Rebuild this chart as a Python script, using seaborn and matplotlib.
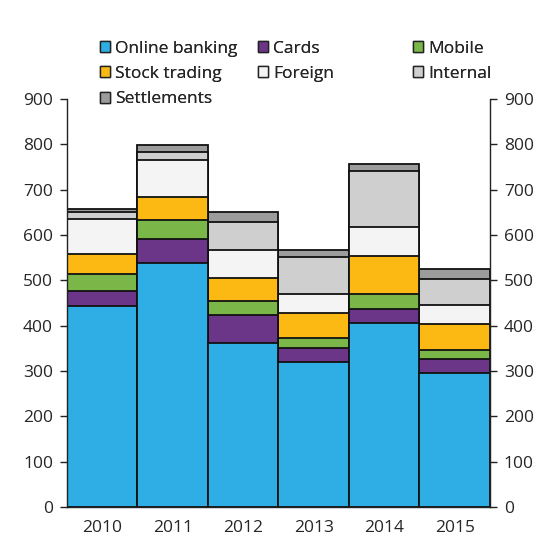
import matplotlib
matplotlib.use("Agg")
import matplotlib.pyplot as plt
import seaborn as sns
import numpy as np
import pandas as pd
from matplotlib.patches import Patch

years = ["2010", "2011", "2012", "2013", "2014", "2015"]
online_banking = [444, 538, 362, 320, 405, 295]
cards = [33, 54, 62, 30, 32, 31]
mobile = [37, 41, 31, 24, 33, 21]
stock_trading = [45, 50, 50, 54, 83, 56]
foreign = [77, 82, 61, 43, 65, 42]
internal = [14, 19, 62, 81, 124, 59]
settlements = [7, 14, 22, 14, 14, 21]

series_names = ["Online banking", "Cards", "Mobile", "Stock trading",
                "Foreign", "Internal", "Settlements"]
series_vals = [online_banking, cards, mobile, stock_trading, foreign,
               internal, settlements]
colors = ["#2EAEE5", "#6C3688", "#7AB648", "#FDB913", "#F4F4F4",
          "#CFCFCF", "#9C9C9C"]

sns.set_style("white")
plt.rcParams['font.family'] = ['Open Sans', 'DejaVu Sans']

fig = plt.figure(figsize=(5.6, 5.6), dpi=100)
ax = fig.add_axes([0.1196, 0.0946, 0.875 - 0.1196, 0.823 - 0.0946])

cum = np.cumsum(np.array(series_vals), axis=0)
for i in range(len(series_names) - 1, -1, -1):
    df = pd.DataFrame({"year": years, "value": cum[i]})
    sns.barplot(data=df, x="year", y="value", color=colors[i], width=1,
                saturation=1, edgecolor="#111111", linewidth=1.3, ax=ax,
                errorbar=None)

ax.set_xlim(-0.5, 5.5)
ax.set_ylim(0, 900)
ax.set_yticks(range(0, 901, 100))
ax.set_xlabel("")
ax.set_ylabel("")
for s in ["left", "right", "bottom"]:
    ax.spines[s].set_visible(True)
    ax.spines[s].set_color("#222222")
    ax.spines[s].set_linewidth(1.0)
ax.spines["top"].set_visible(False)
ax.tick_params(axis="y", which="both", left=True, right=True,
               labelleft=True, labelright=True, direction="out",
               length=5, width=1, color="#222222", labelsize=12.5, pad=5)
ax.tick_params(axis="x", length=0, labelsize=12.5, pad=9)

handles = [Patch(facecolor=c, edgecolor="#222222", linewidth=1) for c in colors]
columns = [[0, 3, 6], [1, 4], [2, 5]]
col_x = [100, 258, 413]
for idx, cx in zip(columns, col_x):
    leg = fig.legend([handles[i] for i in idx], [series_names[i] for i in idx],
                     ncol=1, loc="upper left",
                     bbox_to_anchor=(cx / 560, 0.927),
                     frameon=False, fontsize=12.5, handlelength=0.6,
                     handleheight=0.6, handletextpad=0.25,
                     labelspacing=0.53, borderaxespad=0, borderpad=0)
    fig.add_artist(leg)

fig.savefig("out.png", dpi=100)
